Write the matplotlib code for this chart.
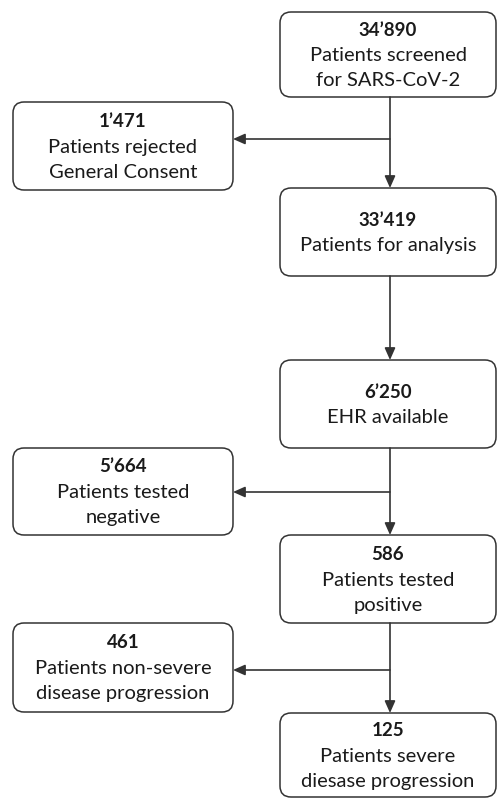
import matplotlib
matplotlib.use("Agg")
import matplotlib.pyplot as plt
from matplotlib.patches import FancyBboxPatch, FancyArrowPatch

# ---- data ----
main_counts = ["34’890", "33’419", "6’250", "586", "125"]
main_labels = [["Patients screened", "for SARS-CoV-2"],
               ["Patients for analysis"],
               ["EHR available"],
               ["Patients tested", "positive"],
               ["Patients severe", "diesase progression"]]
side_counts = ["1’471", "5’664", "461"]
side_labels = [["Patients rejected", "General Consent"],
               ["Patients tested", "negative"],
               ["Patients non-severe", "disease progression"]]

# ---- layout (pixel coordinates, y from top) ----
W, H = 498, 798
main_x = (280, 496)
main_y = [(12, 97), (188, 276), (360, 448), (535, 623), (713, 797)]
side_x = (13, 233)
side_y = [(102, 190), (448, 535), (623, 712)]
side_arrow_y = [139, 492, 670]
vx = 390

EDGE = "#333333"
TXT = "#1a1a1a"
FONT = "Lato"

fig = plt.figure(figsize=(W / 100, H / 100), dpi=100)
ax = fig.add_axes([0, 0, 1, 1])
ax.set_xlim(0, W)
ax.set_ylim(H, 0)
ax.axis("off")


def box(x0, x1, y0, y1, count, lines):
    p = FancyBboxPatch((x0, y0), x1 - x0, y1 - y0,
                       boxstyle="round,pad=0,rounding_size=11",
                       fc="white", ec=EDGE, lw=1.1)
    ax.add_patch(p)
    cx = (x0 + x1) / 2
    cy = (y0 + y1) / 2 + 1
    n = 1 + len(lines)
    sp = 25.5
    start = cy - sp * (n - 1) / 2
    ax.text(cx, start, count, ha="center", va="center", fontsize=13.5,
            fontweight="bold", color=TXT, family=FONT)
    for i, t in enumerate(lines):
        ax.text(cx, start + sp * (i + 1), t, ha="center", va="center",
                fontsize=14.5, color=TXT, family=FONT)


for (y0, y1), c, l in zip(main_y, main_counts, main_labels):
    box(main_x[0], main_x[1], y0, y1, c, l)
for (y0, y1), c, l in zip(side_y, side_counts, side_labels):
    box(side_x[0], side_x[1], y0, y1, c, l)


def arrow(p0, p1):
    a = FancyArrowPatch(p0, p1, arrowstyle="-|>,head_length=0.72,head_width=0.32",
                        mutation_scale=10, color=EDGE, lw=1.2,
                        shrinkA=0, shrinkB=0)
    ax.add_patch(a)


for i in range(len(main_y) - 1):
    arrow((vx, main_y[i][1]), (vx, main_y[i + 1][0]))
for ay in side_arrow_y:
    arrow((vx, ay), (side_x[1], ay))

fig.savefig("out.png", dpi=100, facecolor="white")
